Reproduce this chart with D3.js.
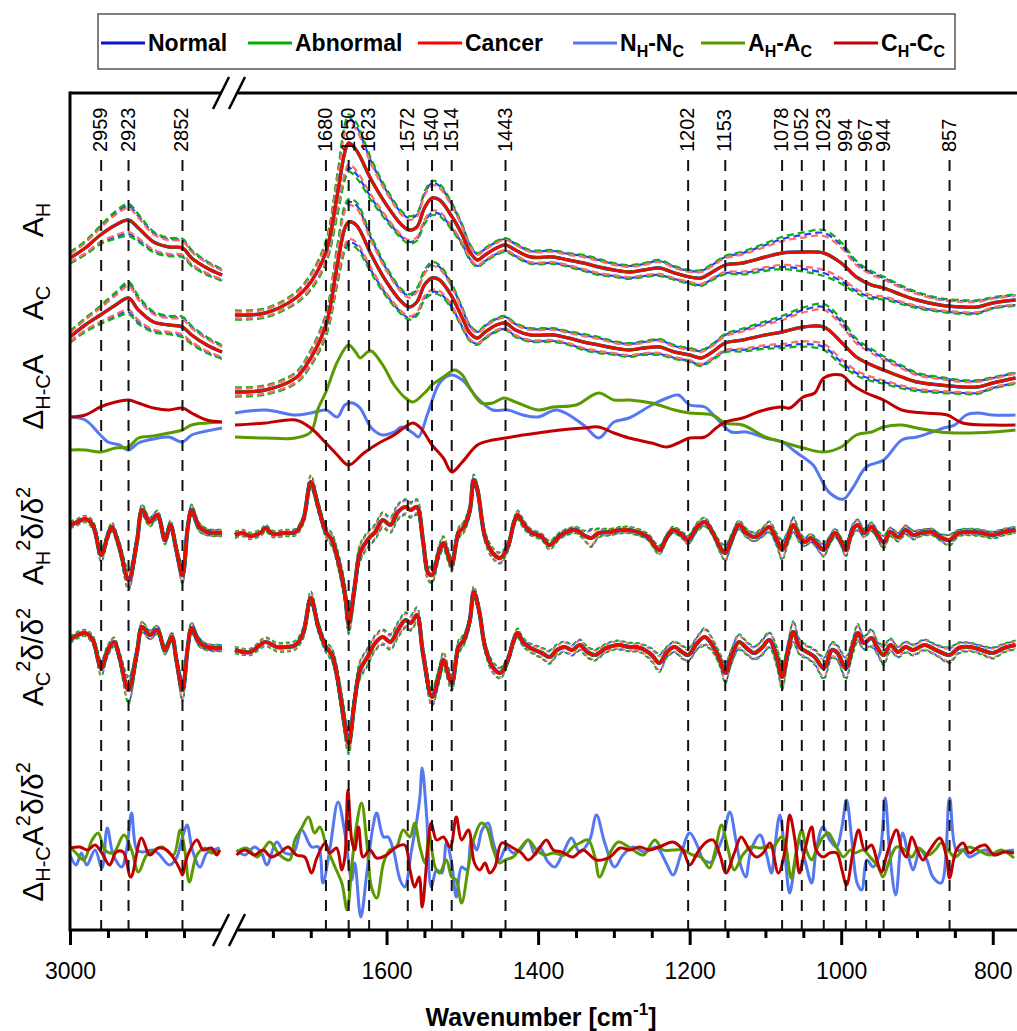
<!DOCTYPE html>
<html>
<head>
<meta charset="utf-8">
<script src="https://cdn.jsdelivr.net/npm/d3@7"></script>
<style>
  body { margin: 0; background: #fff; }
  text { font-family: "Liberation Sans", Arial, sans-serif; }
</style>
</head>
<body>
<div id="chart"></div>
<script>
// ---------------- data (arbitrary stacked units) ----------------

// absorbance grid, cm-1 (left block 3000-2800, right block 1800-770)
const wnAbs = [3000,2980,2960,2940,2923,2910,2890,2870,2852,2840,2820,2800,
  1800,1760,1720,1700,1680,1665,1655,1650,1640,1620,1600,1580,1570,1560,1550,1540,1530,1515,1500,1490,
  1480,1470,1455,1443,1430,1410,1380,1360,1340,1320,1300,1280,1260,1240,1220,1200,1185,1170,1153,1130,
  1100,1078,1050,1023,1000,980,960,944,920,900,870,840,820,800,770];

// healthy-side (H) mean absorbance and its SD
const ahMean = [57,67,80,90,95,87,73,68,67,57,47,40,
  0,2,17,33,63,120,163,172,165,135,110,90,85,88,107,117,115,100,80,63,
  55,60,67,70,65,58,58,55,52,48,45,43,45,47,42,38,37,43,50,52,
  58,62,63,62,52,38,30,27,20,15,10,8,8,12,15];
const ahSd = [5,6,8,12,14,12,9,8,8,7,6,5,
  4,4,5,7,10,18,24,25,24,18,14,12,12,12,14,15,14,12,9,7,
  6,6,6,6,6,6,6,6,7,7,6,6,6,7,6,6,7,7,8,10,
  12,14,17,20,18,14,12,10,8,7,6,6,6,5,5];

// cancer-side (C) mean absorbance and its SD
const acMean = [53,65,75,85,92,80,68,65,63,55,45,38,
  -2,0,12,32,65,125,162,168,165,135,108,88,83,88,105,112,110,95,72,57,
  52,58,65,67,60,55,55,52,48,45,42,40,42,43,38,35,32,38,47,50,
  55,58,63,63,48,33,25,20,13,8,5,3,3,7,12];
const acSd = [5,6,8,11,14,12,9,8,9,8,7,6,
  4,4,5,7,10,17,20,20,20,16,13,11,11,12,13,14,13,11,9,7,
  6,6,6,6,6,6,6,6,7,7,6,6,6,7,6,6,7,7,8,10,
  12,14,17,20,20,16,14,12,10,8,7,6,6,5,5];

// spread of each class relative to the pooled SD: Normal, Abnormal, Cancer
const sdFactor = [1.0, 1.15, 0.85];

// H - C absorbance differences, [wavenumber, value]
const diffNormal = [[3000,8],[2980,5],[2960,-10],[2950,-17],[2935,-20],[2923,-25],[2910,-18],[2890,-14],[2870,-12],[2852,-17],[2840,-10],[2820,-6],[2800,-3],
  [1800,12],[1760,15],[1720,10],[1700,12],[1680,15],[1665,8],[1655,20],[1645,22],[1635,17],[1620,-3],[1605,-10],[1590,-7],[1580,-2],[1565,-8],[1558,-12],[1545,13],[1530,42],[1515,50],[1500,45],[1480,27],[1460,15],[1440,15],[1420,10],[1400,8],[1375,15],[1340,0],[1320,-13],[1300,3],[1280,7],[1250,20],[1230,27],[1215,30],[1200,20],[1180,18],[1165,7],[1145,-7],[1125,-7],[1100,-13],[1078,-17],[1060,-27],[1037,-40],[1028,-52],[1015,-68],[997,-74],[984,-62],[967,-42],[944,-35],[920,-15],[900,-12],[880,-7],[865,-3],[850,0],[835,10],[820,12],[800,10],[770,10]];
const diffAbnormal = [[3000,-25],[2980,-25],[2960,-27],[2940,-23],[2923,-22],[2910,-13],[2890,-11],[2870,-8],[2852,-5],[2840,0],[2820,2],[2800,3],
  [1800,-12],[1760,-13],[1720,-13],[1700,-7],[1690,17],[1680,33],[1665,63],[1650,80],[1640,72],[1635,67],[1625,73],[1620,74],[1605,60],[1590,40],[1575,27],[1565,23],[1550,32],[1540,40],[1525,48],[1510,55],[1500,50],[1490,37],[1475,22],[1460,22],[1445,27],[1430,23],[1400,15],[1380,18],[1350,20],[1320,32],[1300,25],[1280,25],[1250,22],[1220,15],[1200,12],[1170,10],[1153,2],[1130,0],[1100,-12],[1078,-17],[1050,-23],[1023,-27],[1000,-22],[980,-10],[960,-7],[944,-2],[920,0],[900,-3],[870,-7],[840,-8],[800,-7],[770,-5]];
const diffCancer = [[3000,8],[2980,10],[2960,18],[2940,23],[2923,25],[2910,22],[2890,17],[2870,15],[2852,17],[2840,12],[2820,5],[2800,3],
  [1800,0],[1760,2],[1720,5],[1700,-3],[1680,-18],[1665,-30],[1650,-40],[1630,-28],[1610,-18],[1590,-10],[1572,0],[1565,2],[1555,-3],[1540,-20],[1525,-33],[1514,-47],[1500,-37],[1480,-20],[1460,-15],[1443,-13],[1420,-10],[1400,-8],[1370,-5],[1340,-3],[1320,-2],[1300,-8],[1280,-13],[1250,-18],[1230,-22],[1215,-18],[1200,-13],[1180,-12],[1165,-3],[1153,3],[1130,7],[1110,13],[1090,17],[1078,18],[1068,17],[1050,28],[1035,32],[1023,47],[1000,50],[985,40],[967,32],[944,25],[920,15],[890,12],[860,10],[840,2],[800,0],[770,0]];

// second derivative, H side
const d2hWn = [3000,2990,2980,2970,2959,2950,2945,2935,2923,2912,2905,2895,2885,2875,2868,2860,2852,2845,2840,2830,2820,2810,2800,
  1800,1790,1780,1765,1760,1750,1735,1720,1710,1700,1690,1680,1672,1665,1655,1650,1642,1635,1623,1615,
  1605,1595,1585,1575,1568,1560,1552,1545,1540,1530,1525,1518,1514,1505,1498,1490,1485,1480,1470,1460,
  1450,1440,1432,1427,1420,1410,1395,1385,1370,1350,1340,1330,1320,1305,1290,1280,1265,1255,1240,1230,
  1222,1210,1202,1190,1180,1170,1160,1153,1145,1135,1125,1115,1105,1095,1085,1078,1070,1063,1055,1048,
  1040,1033,1023,1015,1008,1000,994,985,978,970,960,952,944,935,925,915,905,895,880,870,857,845,830,815,800,785,770];
const d2hMean = [8,11,14,8,-22,-2,6,-14,-47,-9,23,11,18,-7,8,-17,-42,6,23,6,1,0,0,
  -2,0,-3,1,5,-1,0,1,13,51,26,1,-7,-24,-60,-90,-54,-20,-5,1,
  13,8,21,26,23,26,-7,-40,-42,-17,-10,-24,-32,0,6,23,53,43,-4,-20,
  -25,-14,10,18,10,1,-4,-12,-2,3,-2,-5,0,1,3,3,0,-4,-17,-4,
  3,-2,-7,6,11,1,-14,-20,-7,8,0,-4,0,6,-7,-17,-4,8,-4,-9,
  -5,-10,-17,-7,0,-9,-17,3,8,0,6,-2,-9,1,-4,3,-2,0,1,-4,-7,0,1,0,-2,1,3];
const d2hSd = [3,3,3,4,6,4,4,5,9,6,5,4,4,4,4,5,8,5,5,4,3,3,3,
  3,3,3,3,3,3,3,3,4,6,5,5,6,7,9,10,9,8,7,7,
  7,7,7,7,7,7,7,7,7,6,6,6,6,5,5,5,5,5,5,5,
  5,4,4,4,4,3,3,4,3,3,4,8,4,3,3,3,3,3,4,3,
  3,3,4,4,4,3,5,7,5,4,4,4,4,5,6,9,6,7,5,4,
  4,4,6,4,4,4,6,5,5,4,4,4,6,4,4,4,4,3,3,3,5,3,3,3,3,3,3];

// second derivative, C side
const d2cWn = [3000,2990,2980,2970,2959,2950,2942,2935,2923,2912,2905,2895,2885,2875,2866,2860,2852,2845,2840,2830,2820,2800,
  1800,1780,1760,1745,1730,1720,1710,1700,1690,1680,1672,1665,1658,1650,1642,1635,1625,1615,1605,1595,
  1585,1575,1568,1560,1552,1540,1530,1525,1514,1505,1498,1490,1485,1478,1470,1460,1450,1440,1432,1427,
  1420,1410,1395,1385,1375,1365,1355,1345,1335,1325,1310,1295,1280,1265,1250,1240,1230,1220,1210,1202,
  1190,1180,1170,1160,1153,1145,1135,1125,1115,1105,1095,1085,1078,1070,1063,1055,1045,1035,1023,1012,
  1005,994,985,978,970,960,952,944,935,925,915,905,890,875,857,845,830,815,800,785,770];
const d2cMean = [8,13,15,8,-20,-2,6,-9,-42,-5,21,13,18,-2,11,-12,-42,1,20,6,1,0,
  -2,-4,6,1,1,3,15,50,21,1,-7,-29,-62,-95,-52,-22,-9,5,11,6,
  18,28,25,33,-5,-49,-25,-12,-35,1,8,28,56,38,1,-19,-25,-12,8,15,
  6,0,-5,-9,-2,1,-2,3,-4,-7,0,3,1,0,-7,-15,-4,1,-4,-7,
  5,11,3,-12,-25,-9,6,0,-5,0,8,-9,-29,-2,16,1,-4,-9,-20,-2,
  -5,-20,1,15,5,10,0,-7,3,-4,1,-2,3,-2,-7,0,1,-2,-5,0,3];
const d2cSd = [3,3,3,4,7,5,4,5,12,6,5,4,4,4,4,5,10,5,5,4,3,3,
  3,3,4,4,4,4,5,6,5,5,6,8,10,10,9,8,8,7,7,7,
  7,7,7,7,7,8,7,7,7,6,5,5,5,5,5,5,5,4,4,4,
  4,4,5,6,5,5,5,5,5,5,4,4,4,4,6,8,5,5,6,6,
  6,8,6,6,9,7,7,6,6,7,7,9,11,8,10,7,6,7,10,7,
  7,10,7,8,6,8,6,9,6,5,5,5,5,5,7,5,4,4,5,4,4];

// H - C second-derivative differences, [wavenumber, value]
const diff2Normal = [[3000,-5],[2992,-15],[2985,-3],[2978,-15],[2967,0],[2958,-18],[2951,22],[2943,-5],[2932,-17],[2925,3],[2919,37],[2912,0],[2904,-2],[2890,0],[2882,-5],[2869,-15],[2860,-8],[2852,13],[2846,25],[2839,0],[2829,-17],[2820,-3],[2811,0],[2803,2],
  [1798,0],[1787,-5],[1774,3],[1765,-3],[1758,-15],[1745,8],[1734,-3],[1723,-3],[1712,20],[1699,3],[1690,3],[1684,-33],[1675,0],[1664,48],[1655,17],[1646,-30],[1642,-13],[1634,-67],[1626,-23],[1618,23],[1613,37],[1604,13],[1598,13],[1591,0],[1582,-30],[1576,-37],[1567,0],[1560,30],[1556,53],[1553,82],[1547,33],[1541,-37],[1534,-20],[1527,-23],[1521,7],[1514,-13],[1508,-47],[1501,-17],[1494,-20],[1488,10],[1481,0],[1474,20],[1466,27],[1459,7],[1451,-10],[1442,3],[1433,-3],[1424,0],[1413,10],[1404,-5],[1398,3],[1387,-12],[1378,-17],[1367,-3],[1356,12],[1345,-2],[1332,10],[1323,35],[1312,7],[1299,-17],[1288,-5],[1275,3],[1259,-2],[1244,3],[1231,-13],[1222,-25],[1211,-3],[1200,17],[1189,3],[1182,-10],[1171,-12],[1165,-3],[1156,13],[1147,38],[1139,10],[1132,-17],[1126,-27],[1119,0],[1107,15],[1099,-3],[1092,-23],[1088,0],[1081,35],[1074,-7],[1068,-43],[1061,-13],[1055,10],[1048,-10],[1039,-33],[1033,0],[1024,23],[1015,10],[1006,3],[999,23],[993,50],[986,10],[979,-33],[973,-40],[966,-10],[958,-17],[949,-3],[942,52],[936,-3],[928,-45],[919,17],[911,-7],[905,-20],[896,0],[887,-10],[879,-27],[868,-33],[857,52],[848,0],[839,0],[831,-7],[820,-3],[810,0],[800,-5],[787,-2],[772,0]];
const diff2Abnormal = [[3000,3],[2992,-3],[2982,-10],[2971,10],[2963,17],[2954,0],[2943,-3],[2929,15],[2919,0],[2910,-22],[2899,-5],[2888,0],[2879,3],[2864,-5],[2855,20],[2849,0],[2843,-32],[2833,-5],[2822,2],[2814,-3],[2803,0],
  [1798,-2],[1785,2],[1771,-7],[1763,0],[1754,8],[1741,-5],[1728,-10],[1721,10],[1712,22],[1703,33],[1695,17],[1688,23],[1679,3],[1668,-17],[1659,-33],[1652,-60],[1646,-17],[1640,23],[1633,47],[1626,7],[1620,-37],[1613,-48],[1604,-13],[1596,0],[1587,3],[1578,20],[1569,13],[1563,27],[1556,3],[1549,-13],[1544,17],[1536,-17],[1530,-23],[1521,-10],[1514,-27],[1508,-30],[1501,-53],[1492,-17],[1484,13],[1475,27],[1468,23],[1459,0],[1451,-13],[1444,-10],[1433,-7],[1422,3],[1413,10],[1402,0],[1391,-5],[1380,-3],[1365,-5],[1354,3],[1345,7],[1334,10],[1325,-7],[1319,-27],[1305,-3],[1294,8],[1275,0],[1261,-5],[1246,10],[1235,0],[1222,0],[1209,0],[1196,-5],[1185,-7],[1174,-18],[1167,-3],[1158,25],[1150,3],[1141,-20],[1130,-5],[1119,3],[1107,2],[1099,3],[1090,3],[1079,13],[1074,7],[1066,-28],[1059,0],[1052,20],[1046,0],[1039,-10],[1033,0],[1024,13],[1017,17],[1011,10],[1004,0],[997,-7],[988,0],[982,-3],[971,0],[962,-7],[951,-17],[945,-27],[936,-10],[927,3],[916,0],[907,-7],[898,2],[885,-5],[876,0],[868,7],[859,0],[850,-7],[839,0],[831,3],[820,0],[804,-5],[789,0],[772,-8]];
const diff2Cancer = [[3000,2],[2987,3],[2977,0],[2967,5],[2958,-3],[2948,-15],[2939,-2],[2930,-2],[2920,-27],[2906,12],[2895,-5],[2884,2],[2873,0],[2862,-10],[2855,-20],[2852,-25],[2846,-7],[2833,10],[2825,0],[2814,2],[2807,-5],[2803,0],
  [1798,-5],[1787,0],[1774,-5],[1763,0],[1752,-7],[1741,-3],[1730,3],[1719,-5],[1708,-7],[1699,-23],[1692,-8],[1681,7],[1675,-3],[1666,2],[1659,-20],[1655,-7],[1651,60],[1646,10],[1642,0],[1637,23],[1631,-7],[1622,0],[1613,-8],[1600,-5],[1587,3],[1576,5],[1569,-20],[1563,-37],[1557,-27],[1553,-57],[1546,-3],[1541,27],[1534,10],[1525,13],[1516,3],[1508,33],[1501,10],[1492,20],[1484,-13],[1477,-20],[1470,-13],[1464,-23],[1457,-17],[1448,7],[1433,2],[1422,-3],[1413,-10],[1400,0],[1389,10],[1380,0],[1369,-2],[1354,-7],[1341,0],[1323,-10],[1305,-7],[1292,2],[1279,0],[1266,3],[1253,0],[1240,3],[1222,8],[1209,0],[1200,-15],[1189,-2],[1178,8],[1169,10],[1160,-5],[1152,-23],[1141,-3],[1132,13],[1121,0],[1112,-7],[1103,-3],[1094,7],[1083,-23],[1074,0],[1068,35],[1061,10],[1055,-23],[1048,0],[1039,23],[1033,0],[1024,-7],[1015,-3],[1006,-3],[999,-20],[993,-35],[984,0],[977,20],[969,0],[960,5],[953,-10],[947,-22],[938,0],[927,20],[920,0],[914,-7],[907,13],[898,-3],[892,-10],[883,0],[870,12],[861,-7],[857,-28],[848,0],[839,7],[831,-3],[819,3],[810,5],[798,-5],[785,-2],[772,-3]];

// vertical offsets of the stacked panels (same units as the values)
const panelOffsets = [615, 540, 505, 397, 282, 80];

// marked bands, cm-1
const peakWn = [2959,2923,2852,1680,1650,1623,1572,1540,1514,1443,1202,1153,1078,1052,1023,994,967,944,857];

const leftMajor = [3000], leftMinor = [2950, 2900, 2850];
const rightMajor = [1600, 1400, 1200, 1000, 800];
const rightMinor = [1750,1700,1650,1550,1500,1450,1350,1300,1250,1150,1100,1050,950,900,850];

// ---------------- frame ----------------
const FRAME_WIDTH = 1017;
const FRAME_HEIGHT = 1031;
const MARGINS = {left: 70, right: 0, top: 93, bottom: 101};

const svg = d3.select('#chart')
  .append('svg')
  .attr('width', FRAME_WIDTH)
  .attr('height', FRAME_HEIGHT);

const AXIS_Y = FRAME_HEIGHT - MARGINS.bottom;

// broken x axis: two linear pieces
const xLeft = d3.scaleLinear().domain([3000, 2800]).range([MARGINS.left, 222]);
const xRight = d3.scaleLinear().domain([1800, 768]).range([235, FRAME_WIDTH]);
const y = d3.scaleLinear().domain([0, 837]).range([AXIS_Y, MARGINS.top]);

const xOf = wn => (wn >= 2800 ? xLeft(wn) : xRight(wn));

const classColors = ['#0a14c8', '#00b000', '#ff0000'];
const classDash = ['#2040ff', '#10b010', '#ff6a6a'];
const diffColors = ['#5578f0', '#5a9a00', '#c00000'];

const plot = svg.append('g');

// draw a [wn, v] series, splitting it at the axis break
function drawSeries(pts, offset, color, width, dash) {
  const line = d3.line()
    .x(d => xOf(d[0]))
    .y(d => y(offset + d[1]))
    .curve(d3.curveCatmullRom.alpha(0.5));
  [pts.filter(d => d[0] >= 2800), pts.filter(d => d[0] <= 1800)].forEach(part => {
    plot.append('path')
      .attr('d', line(part))
      .attr('fill', 'none')
      .attr('stroke', color)
      .attr('stroke-width', width)
      .attr('stroke-linejoin', 'round')
      .attr('stroke-dasharray', dash || null);
  });
}

// panel of three class means with +-SD dashed envelopes
function drawClassPanel(wn, mean, sd, offset, solidW, dashW, dashPat) {
  sdFactor.forEach((f, k) => {
    const up = wn.map((w, i) => [w, mean[i] + f * sd[i]]);
    const lo = wn.map((w, i) => [w, mean[i] - f * sd[i]]);
    drawSeries(up, offset, classDash[k], dashW, dashPat);
    drawSeries(lo, offset, classDash[k], dashW, dashPat);
  });
  const m = wn.map((w, i) => [w, mean[i]]);
  solidW.forEach((sw, k) => drawSeries(m, offset, classColors[k], sw));
}

drawClassPanel(wnAbs, ahMean, ahSd, panelOffsets[0], [3.4, 3.0, 2.6], 2.2, '7,4');
drawClassPanel(wnAbs, acMean, acSd, panelOffsets[1], [3.4, 3.0, 2.6], 2.2, '7,4');

[diffNormal, diffAbnormal, diffCancer].forEach((s, k) =>
  drawSeries(s, panelOffsets[2], diffColors[k], 3));

drawClassPanel(d2hWn, d2hMean, d2hSd, panelOffsets[3], [4.2, 3.6, 3.0], 1.6, '4,3');
drawClassPanel(d2cWn, d2cMean, d2cSd, panelOffsets[4], [4.2, 3.6, 3.0], 1.6, '4,3');

[diff2Normal, diff2Abnormal, diff2Cancer].forEach((s, k) =>
  drawSeries(s, panelOffsets[5], diffColors[k], 3));

// ---------------- marker lines and labels ----------------
const PEAK_TOP = 160;
const LABEL_BASE = 152;   // labels read bottom-to-top, starting here
svg.append('g').selectAll('line')
  .data(peakWn)
  .join('line')
  .attr('x1', d => xOf(d)).attr('x2', d => xOf(d))
  .attr('y1', PEAK_TOP).attr('y2', AXIS_Y)
  .attr('stroke', '#111')
  .attr('stroke-width', 2)
  .attr('stroke-dasharray', '11,9');

const peakLabels = svg.append('g')
  .attr('font-size', 20)
  .attr('fill', '#000');
peakWn.forEach(d => {
  const px = xOf(d) + 6;
  peakLabels.append('text')
    .attr('x', px)
    .attr('y', LABEL_BASE)
    .attr('text-anchor', 'start')
    .attr('transform', `rotate(-90 ${px} ${LABEL_BASE})`)
    .text(String(d));
});

// ---------------- axes ----------------
const axisG = svg.append('g').attr('transform', `translate(0,${AXIS_Y})`);
function tickAxis(scale, vals, size, labels) {
  const ax = d3.axisBottom(scale).tickValues(vals).tickSize(size).tickPadding(33 - size)
    .tickFormat(labels ? d3.format('d') : () => '');
  const g = axisG.append('g').call(ax);
  g.select('.domain').remove();
  g.selectAll('.tick line').attr('stroke', '#000').attr('stroke-width', 3);
  g.selectAll('.tick text')
    .attr('font-size', 23)
    .attr('font-family', '"Liberation Sans", Arial, sans-serif')
    .attr('fill', '#000');
}
tickAxis(xLeft, leftMajor, 15, true);
tickAxis(xLeft, leftMinor, 8, false);
tickAxis(xRight, rightMajor, 15, true);
tickAxis(xRight, rightMinor, 8, false);

const frame = svg.append('g').attr('stroke', '#000').attr('stroke-width', 3).attr('fill', 'none');
frame.append('line').attr('x1', MARGINS.left).attr('x2', MARGINS.left)
  .attr('y1', MARGINS.top - 1.5).attr('y2', AXIS_Y + 1.5);
[MARGINS.top, AXIS_Y].forEach(yy => {
  frame.append('line').attr('x1', MARGINS.left).attr('x2', 221).attr('y1', yy).attr('y2', yy);
  frame.append('line').attr('x1', 238).attr('x2', FRAME_WIDTH).attr('y1', yy).attr('y2', yy);
  // break marks
  [213, 229].forEach(bx => {
    frame.append('line')
      .attr('x1', bx).attr('y1', yy + 16)
      .attr('x2', bx + 16).attr('y2', yy - 16)
      .attr('stroke-width', 2.5);
  });
});

svg.append('text')
  .attr('x', 541).attr('y', 1026)
  .attr('text-anchor', 'middle')
  .attr('font-size', 25)
  .attr('font-weight', 'bold')
  .call(t => {
    t.append('tspan').text('Wavenumber [cm');
    t.append('tspan').attr('dy', -11).attr('font-size', 17).text('-1');
    t.append('tspan').attr('dy', 11).text(']');
  });

// ---------------- panel titles ----------------
// each title: list of [text, role] where role is 'n' normal, 'sub' or 'sup'
const panelTitles = [
  [['A', 'n'], ['H', 'sub']],
  [['A', 'n'], ['C', 'sub']],
  [['\u0394', 'n'], ['H-C', 'sub'], ['A', 'n']],
  [['A', 'n'], ['H', 'sub'], ['2', 'sup'], ['\u03b4/\u03b4', 'n'], ['2', 'sup']],
  [['A', 'n'], ['C', 'sub'], ['2', 'sup'], ['\u03b4/\u03b4', 'n'], ['2', 'sup']],
  [['\u0394', 'n'], ['H-C', 'sub'], ['A', 'n'], ['2', 'sup'], ['\u03b4/\u03b4', 'n'], ['2', 'sup']]
];
const titleCenters = [220, 303, 392, 536, 657, 832];

function richText(sel, parts, base, small, subShift, supShift) {
  let cur = 0;
  parts.forEach(([txt, role]) => {
    const target = role === 'sub' ? subShift : role === 'sup' ? -supShift : 0;
    sel.append('tspan')
      .attr('dy', target - cur)
      .attr('font-size', role === 'n' ? base : small)
      .text(txt);
    cur = target;
  });
}

panelTitles.forEach((parts, i) => {
  svg.append('text')
    .attr('transform', `translate(43,${titleCenters[i]}) rotate(-90)`)
    .attr('text-anchor', 'middle')
    .attr('fill', '#000')
    .call(t => richText(t, parts, 30, 20, 7, 13));
});

// ---------------- legend ----------------
const legendLabels = [
  [['Normal', 'n']],
  [['Abnormal', 'n']],
  [['Cancer', 'n']],
  [['N', 'n'], ['H', 'sub'], ['-N', 'n'], ['C', 'sub']],
  [['A', 'n'], ['H', 'sub'], ['-A', 'n'], ['C', 'sub']],
  [['C', 'n'], ['H', 'sub'], ['-C', 'n'], ['C', 'sub']]
];
const legendColors = classColors.concat(diffColors);
const legendX = [101, 248, 418, 573, 701, 834];

const legend = svg.append('g');
legend.append('rect')
  .attr('x', 98).attr('y', 14).attr('width', 857).attr('height', 55)
  .attr('fill', '#fff').attr('stroke', '#555').attr('stroke-width', 1.5);

legendLabels.forEach((parts, i) => {
  legend.append('line')
    .attr('x1', legendX[i]).attr('x2', legendX[i] + 44)
    .attr('y1', 43).attr('y2', 43)
    .attr('stroke', legendColors[i]).attr('stroke-width', 3);
  legend.append('text')
    .attr('x', legendX[i] + 47).attr('y', 51)
    .attr('font-weight', 'bold')
    .attr('fill', '#000')
    .call(t => richText(t, parts, 23, 16, 6, 10));
});
</script>
</body>
</html>
